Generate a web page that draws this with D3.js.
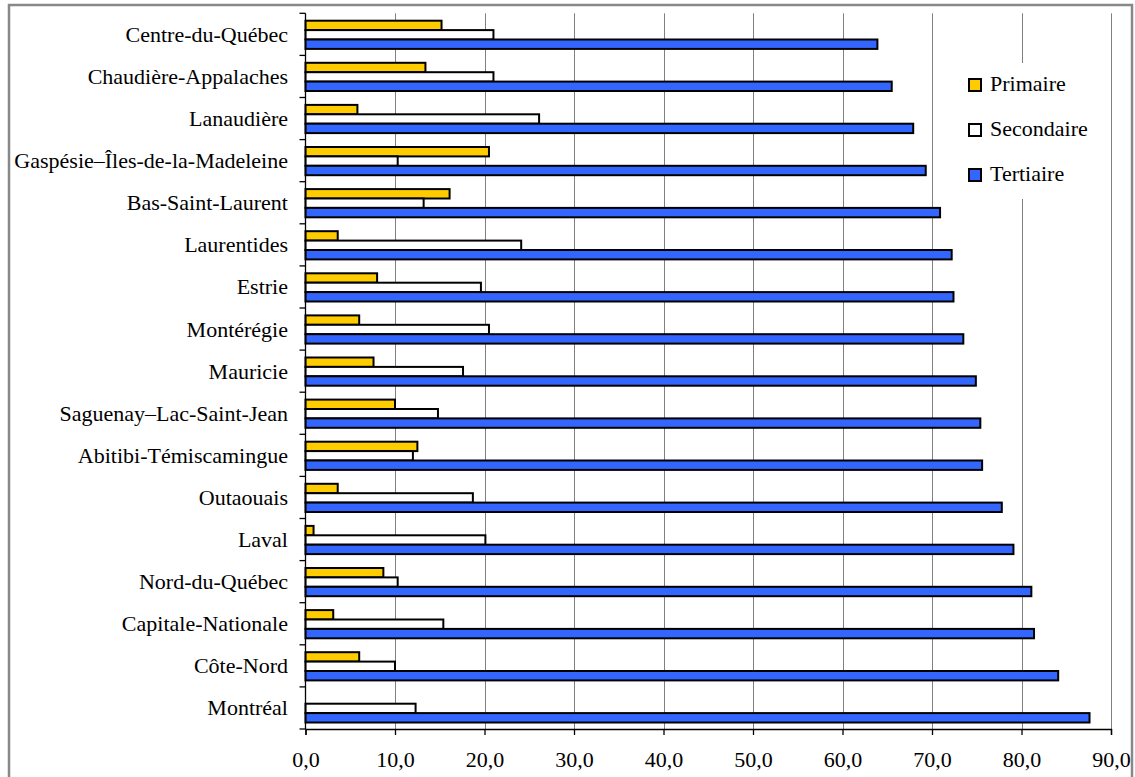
<!DOCTYPE html>
<html>
<head>
<meta charset="utf-8">
<script src="https://cdn.jsdelivr.net/npm/d3@7"></script>
<style>
  body { margin: 0; background: #fff; }
  svg text { font-family: "Liberation Serif", "Times New Roman", serif; fill: #000; }
</style>
</head>
<body>
<svg width="1135" height="777"></svg>
<script>
// regions from top to bottom
var regions = ['Centre-du-Québec', 'Chaudière-Appalaches', 'Lanaudière', 'Gaspésie–Îles-de-la-Madeleine',
  'Bas-Saint-Laurent', 'Laurentides', 'Estrie', 'Montérégie', 'Mauricie', 'Saguenay–Lac-Saint-Jean',
  'Abitibi-Témiscamingue', 'Outaouais', 'Laval', 'Nord-du-Québec', 'Capitale-Nationale', 'Côte-Nord', 'Montréal'];
var primaire   = [15.2, 13.4, 5.8, 20.5, 16.1, 3.6, 8.0, 6.0, 7.6, 10.0, 12.5, 3.6, 0.9, 8.7, 3.1, 6.0, 0];
var secondaire = [21.0, 21.0, 26.1, 10.3, 13.2, 24.1, 19.6, 20.5, 17.6, 14.8, 12.0, 18.7, 20.1, 10.3, 15.4, 10.0, 12.3];
var tertiaire  = [63.9, 65.5, 67.9, 69.3, 70.9, 72.2, 72.4, 73.5, 74.9, 75.4, 75.6, 77.8, 79.1, 81.1, 81.4, 84.1, 87.6];
var seriesNames = ['Primaire', 'Secondaire', 'Tertiaire'];
var xTicks = [0, 10, 20, 30, 40, 50, 60, 70, 80, 90];

var colors = {Primaire: '#FFCC00', Secondaire: '#FFFFFF', Tertiaire: '#3366FF'};
var series = [primaire, secondaire, tertiaire];
var serif = '"Liberation Serif", "Times New Roman", serif';

var svg = d3.select('svg').attr('font-family', serif);

// outer frame
svg.append('rect')
  .attr('x', 9).attr('y', 5).attr('width', 1123).attr('height', 790)
  .attr('fill', 'none').attr('stroke', '#888').attr('stroke-width', 2.5);

var plotLeft = 305.5, plotRight = 1111, plotTop = 13.3, plotBottom = 729;

var x = d3.scaleLinear().domain([0, 90]).range([plotLeft, plotRight]);
var y = d3.scaleBand().domain(regions).range([plotTop, plotBottom]);
var ys = d3.scaleBand().domain(seriesNames).range([7.4, 7.4 + 28.2]);

// gridlines
svg.append('g')
  .selectAll('line')
  .data(xTicks.slice(1))
  .enter()
  .append('line')
  .attr('x1', function (d) { return Math.round(x(d)) + 0.5; })
  .attr('x2', function (d) { return Math.round(x(d)) + 0.5; })
  .attr('y1', plotTop).attr('y2', plotBottom)
  .attr('stroke', '#808080').attr('stroke-width', 1);

// bars
var groups = svg.append('g')
  .selectAll('g')
  .data(regions)
  .enter()
  .append('g')
  .attr('transform', function (d) { return 'translate(0,' + y(d) + ')'; });

groups.selectAll('rect')
  .data(function (d, i) {
    return seriesNames.map(function (s, k) { return {s: s, v: series[k][i]}; })
      .filter(function (e) { return e.v > 0; });
  })
  .enter()
  .append('rect')
  .attr('x', x(0))
  .attr('y', function (d) { return ys(d.s); })
  .attr('width', function (d) { return x(d.v) - x(0); })
  .attr('height', ys.bandwidth())
  .attr('fill', function (d) { return colors[d.s]; })
  .attr('stroke', '#000')
  .attr('stroke-width', 2);

// x axis
var xAxis = svg.append('g')
  .attr('transform', 'translate(0,' + plotBottom + ')')
  .call(d3.axisBottom(x).tickValues(xTicks).tickSize(6).tickPadding(16)
    .tickFormat(function (d) { return d.toFixed(1).replace('.', ','); }));
xAxis.attr('font-family', serif);
xAxis.select('.domain').attr('stroke', '#000').attr('stroke-width', 1.3);
xAxis.selectAll('.tick line').attr('stroke', '#000').attr('stroke-width', 1.3);
xAxis.selectAll('text').attr('font-size', 22).attr('fill', '#000');

// y axis: line + boundary ticks
var yAxis = svg.append('g');
yAxis.append('line')
  .attr('x1', plotLeft).attr('x2', plotLeft).attr('y1', plotTop).attr('y2', plotBottom)
  .attr('stroke', '#000').attr('stroke-width', 1.3);
var bounds = regions.map(function (r) { return y(r); }).concat([plotBottom]);
yAxis.selectAll('line.tk')
  .data(bounds)
  .enter()
  .append('line')
  .attr('class', 'tk')
  .attr('x1', plotLeft - 6).attr('x2', plotLeft)
  .attr('y1', function (d) { return d; }).attr('y2', function (d) { return d; })
  .attr('stroke', '#000').attr('stroke-width', 1.3);
yAxis.selectAll('text')
  .data(regions)
  .enter()
  .append('text')
  .attr('x', 288)
  .attr('y', function (d) { return y(d) + y.bandwidth() / 2 + 7.5; })
  .attr('text-anchor', 'end')
  .attr('font-family', serif)
  .attr('font-size', 22)
  .text(function (d) { return d; });

// legend
var legend = svg.append('g');
legend.append('rect')
  .attr('x', 960).attr('y', 63).attr('width', 140).attr('height', 136)
  .attr('fill', '#fff');
var items = legend.selectAll('g.item')
  .data(seriesNames)
  .enter()
  .append('g')
  .attr('class', 'item')
  .attr('transform', function (d, i) { return 'translate(969,' + (79 + i * 45) + ')'; });
items.append('rect')
  .attr('width', 12).attr('height', 12)
  .attr('fill', function (d) { return colors[d]; })
  .attr('stroke', '#000').attr('stroke-width', 2);
items.append('text')
  .attr('x', 21).attr('y', 12)
  .attr('font-family', serif)
  .attr('font-size', 22)
  .text(function (d) { return d; });
</script>
</body>
</html>
